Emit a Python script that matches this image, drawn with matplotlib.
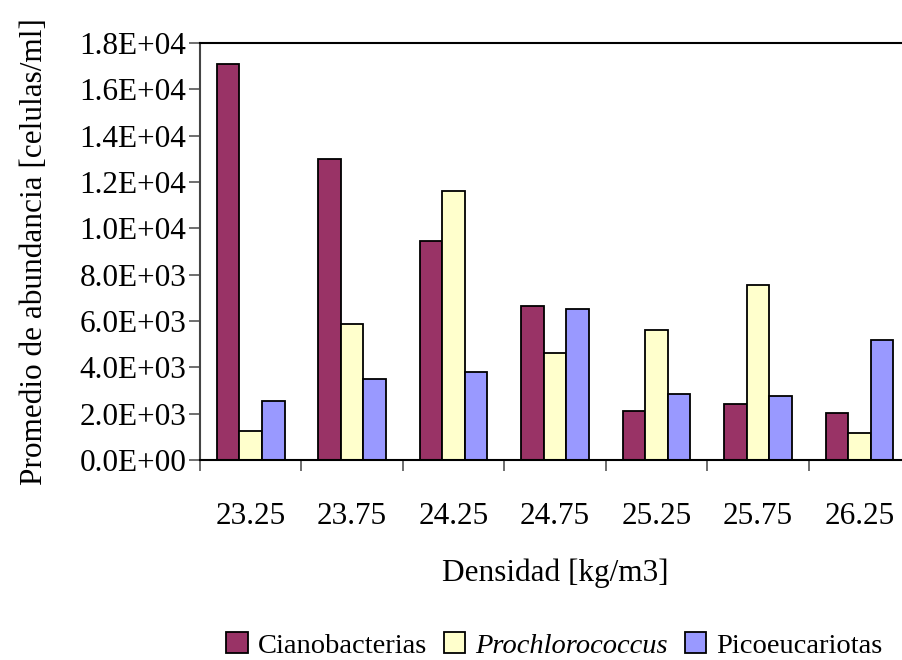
import matplotlib.pyplot as plt
import numpy as np
from matplotlib.ticker import FuncFormatter

plt.rcParams['font.family'] = ['Liberation Serif', 'DejaVu Serif']

densidad = ['23.25', '23.75', '24.25', '24.75', '25.25', '25.75', '26.25']
cianobacterias = [17100, 13000, 9450, 6650, 2120, 2420, 2040]
prochlorococcus = [1250, 5850, 11630, 4600, 5620, 7550, 1170]
picoeucariotas = [2560, 3510, 3810, 6500, 2850, 2780, 5190]

fs = 22.5

fig = plt.figure(figsize=(9.03, 6.6), dpi=100)
ax = fig.add_axes([0.2215, 0.303, 0.7863, 0.6318])

x = np.arange(len(densidad))
w = 0.222
kw = dict(edgecolor='black', linewidth=1.3)
ax.bar(x - w, cianobacterias, w, color='#993366', label='Cianobacterias', **kw)
ax.bar(x, prochlorococcus, w, color='#FFFFCC', label='Prochlorococcus', **kw)
ax.bar(x + w, picoeucariotas, w, color='#9999FF', label='Picoeucariotas', **kw)

ax.set_xlim(-0.5, len(densidad) - 0.5)
ax.set_ylim(0, 18000)
ax.set_yticks(np.arange(0, 18001, 2000))
ax.yaxis.set_major_formatter(FuncFormatter(lambda v, pos: '%.1E' % v))

ax.set_xticks(x)
ax.set_xticklabels(densidad)
ax.set_xticks(np.arange(-0.5, len(densidad)), minor=True)
ax.tick_params(axis='x', which='major', length=0, pad=30, labelsize=fs)
ax.tick_params(axis='x', which='minor', length=8, width=1.2, color='#555555', direction='out')
ax.tick_params(axis='y', length=8, width=1.2, color='#555555', labelsize=fs, pad=2)

for s in ['top', 'bottom', 'left', 'right']:
    ax.spines[s].set_linewidth(1.5)
ax.spines['left'].set_color('#444444')

ax.set_xlabel('Densidad [kg/m3]', fontsize=fs, labelpad=20)
ax.set_ylabel('Promedio de abundancia [celulas/ml]', fontsize=fs, labelpad=22)

leg = fig.legend(loc='center', bbox_to_anchor=(0.614, 0.022), ncol=3, frameon=False,
                 fontsize=20.5, handlelength=0.75, handleheight=0.75, handletextpad=0.35,
                 columnspacing=0.6, borderaxespad=0, borderpad=0)
leg.get_texts()[1].set_style('italic')

fig.savefig('out.png', dpi=100)
